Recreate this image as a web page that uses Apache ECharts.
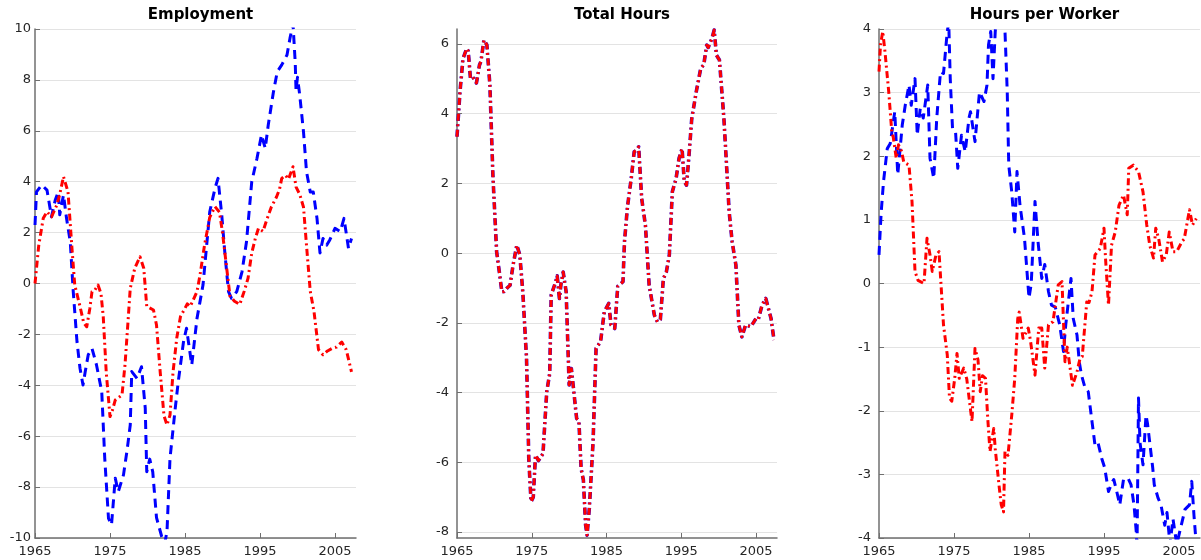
<!DOCTYPE html>
<html>
<head>
<meta charset="utf-8">
<script src="https://cdn.jsdelivr.net/npm/echarts@6/dist/echarts.min.js"></script>
<style>
  html, body { margin: 0; padding: 0; background: #fff; }
  #chart { width: 1201px; height: 560px; }
</style>
</head>
<body>
<div id="chart"></div>
<script>
// panel titles and axis ticks
const titles = ['Employment', 'Total Hours', 'Hours per Worker']
const yearTicks = [1965, 1975, 1985, 1995, 2005]
const totalHoursTicks = [-8, -6, -4, -2, 0, 2, 4, 6]

// [year, value]
const employmentBlue = [
  [1965.0, 2.3], [1965.2, 3.6], [1965.9, 3.87], [1966.6, 3.67], [1967.2, 2.62], [1967.7, 3.28],
  [1968.1, 3.6], [1968.3, 2.7], [1968.8, 3.48], [1969.2, 2.57], [1969.7, 1.64], [1970.1, -0.32],
  [1970.6, -2.29], [1971.0, -3.33], [1971.4, -3.99], [1971.7, -3.46], [1972.1, -2.8], [1972.6, -2.55],
  [1973.2, -3.2], [1973.9, -4.25], [1974.3, -6.87], [1974.8, -9.23], [1975.2, -9.49], [1975.7, -7.65],
  [1976.1, -8.18], [1976.8, -7.52], [1977.3, -6.5], [1977.7, -5.56], [1977.9, -3.46], [1978.6, -3.73],
  [1979.2, -3.27], [1979.7, -4.9], [1979.9, -7.4], [1980.3, -6.9], [1980.7, -7.4], [1981.2, -9.2],
  [1981.9, -9.95], [1982.3, -10.2], [1982.6, -9.75], [1983.0, -6.87], [1983.7, -4.9], [1984.1, -3.86],
  [1984.8, -2.29], [1985.2, -1.76], [1985.9, -3.2], [1986.6, -1.37], [1987.4, -0.06], [1988.3, 2.82],
  [1989.0, 3.74], [1989.4, 4.13], [1989.9, 2.69], [1990.3, 1.25], [1990.8, -0.32], [1991.2, -0.58],
  [1991.9, -0.32], [1992.6, 0.46], [1993.2, 1.64], [1993.9, 4.0], [1994.6, 4.92], [1995.2, 5.84],
  [1995.7, 5.31], [1996.1, 6.23], [1996.8, 7.54], [1997.3, 8.32], [1997.9, 8.59], [1998.6, 8.98],
  [1999.0, 9.64], [1999.4, 10.2], [1999.7, 8.66], [1999.8, 7.6], [2000.0, 8.1], [2000.3, 7.4],
  [2000.8, 5.96], [2001.2, 4.4], [2001.7, 3.6], [2002.1, 3.6], [2002.6, 2.56], [2003.0, 1.2],
  [2003.4, 1.77], [2003.9, 1.51], [2004.3, 1.71], [2005.0, 2.17], [2005.7, 2.04], [2006.2, 2.56],
  [2006.8, 1.38], [2007.2, 1.77]
]
const employmentRed = [
  [1965.0, 0.0], [1965.5, 1.5], [1966.1, 2.56], [1966.6, 2.82], [1967.2, 2.62], [1967.9, 3.08],
  [1968.3, 3.5], [1968.8, 4.2], [1969.4, 3.6], [1969.9, 1.5], [1970.3, -0.06], [1971.0, -0.9],
  [1971.5, -1.55], [1971.9, -1.7], [1972.3, -1.0], [1972.6, -0.32], [1973.0, -0.25], [1973.4, -0.06],
  [1973.8, -0.4], [1974.1, -1.3], [1974.5, -3.5], [1975.0, -5.23], [1975.3, -5.0], [1975.7, -4.58],
  [1976.6, -4.38], [1977.0, -3.2], [1977.4, -1.5], [1977.7, -0.19], [1978.3, 0.6], [1979.0, 1.05],
  [1979.5, 0.6], [1979.9, -0.9], [1980.1, -0.97], [1980.8, -1.04], [1981.2, -1.63], [1981.7, -3.5],
  [1982.2, -5.2], [1982.6, -5.56], [1983.0, -5.17], [1983.4, -3.5], [1983.9, -2.14], [1984.4, -1.3],
  [1985.0, -0.97], [1985.3, -0.8], [1985.7, -0.9], [1986.6, -0.32], [1987.0, 0.33], [1987.6, 1.5],
  [1988.3, 2.6], [1989.0, 3.02], [1989.6, 2.8], [1990.0, 2.0], [1990.6, 0.5], [1991.0, -0.5],
  [1991.6, -0.7], [1992.3, -0.82], [1992.9, -0.3], [1993.4, 0.2], [1993.9, 1.2], [1994.4, 1.8],
  [1994.8, 2.17], [1995.4, 2.05], [1995.9, 2.5], [1996.5, 3.0], [1997.2, 3.4], [1997.6, 3.7],
  [1997.9, 4.13], [1998.4, 4.25], [1998.8, 4.1], [1999.4, 4.59], [1999.8, 3.8], [2000.3, 3.5],
  [2000.8, 3.0], [2001.2, 1.5], [2001.7, -0.3], [2002.2, -1.1], [2002.8, -2.6], [2003.4, -2.8],
  [2004.0, -2.65], [2004.6, -2.55], [2005.2, -2.5], [2005.9, -2.3], [2006.5, -2.6], [2007.2, -3.47]
]
const totalHours = [
  [1965.0, 3.34], [1965.4, 4.63], [1965.8, 5.58], [1966.3, 5.87], [1966.5, 5.8], [1966.8, 5.01],
  [1967.1, 5.05], [1967.4, 4.96], [1967.6, 4.88], [1968.0, 5.39], [1968.2, 5.5], [1968.4, 5.55],
  [1968.6, 6.11], [1969.0, 5.97], [1969.4, 4.82], [1969.8, 2.24], [1970.3, 0.04], [1970.7, -0.6],
  [1971.0, -1.11], [1971.3, -1.1], [1971.7, -1.0], [1972.1, -0.92], [1972.5, -0.34], [1973.0, 0.23],
  [1973.4, -0.05], [1973.8, -1.11], [1974.3, -3.02], [1974.6, -5.89], [1974.9, -7.13], [1975.2, -7.0],
  [1975.5, -5.79], [1975.9, -5.95], [1976.5, -5.75], [1977.0, -3.98], [1977.4, -3.45], [1977.6, -1.2],
  [1978.2, -0.82], [1978.4, -0.65], [1978.7, -1.3], [1978.9, -0.9], [1979.2, -0.54], [1979.6, -1.11],
  [1980.0, -3.78], [1980.3, -3.31], [1980.5, -3.3], [1981.0, -4.74], [1981.3, -4.8], [1981.6, -6.18],
  [1981.9, -6.5], [1982.2, -7.8], [1982.4, -8.09], [1982.7, -7.32], [1983.2, -5.41], [1983.6, -2.73],
  [1984.2, -2.54], [1984.7, -1.68], [1985.3, -1.44], [1985.6, -2.06], [1986.1, -2.16], [1986.5, -0.95],
  [1987.2, -0.82], [1987.4, 0.33], [1987.8, 1.33], [1988.3, 2.14], [1988.7, 2.91], [1989.0, 2.95],
  [1989.3, 3.05], [1989.7, 1.57], [1990.2, 0.8], [1990.7, -0.92], [1991.4, -1.78], [1991.8, -1.97],
  [1992.2, -1.9], [1992.6, -0.73], [1993.0, -0.54], [1993.4, -0.05], [1993.8, 1.76], [1994.3, 2.14],
  [1994.7, 2.72], [1995.1, 3.0], [1995.4, 2.05], [1995.7, 1.95], [1996.0, 2.72], [1996.4, 3.86],
  [1997.0, 4.63], [1997.6, 5.3], [1998.0, 5.4], [1998.4, 5.97], [1998.6, 5.9], [1999.1, 6.16],
  [1999.4, 6.4], [1999.7, 5.68], [2000.1, 5.54], [2000.7, 3.86], [2001.4, 1.19], [2001.8, 0.33],
  [2002.3, -0.34], [2002.7, -2.06], [2003.1, -2.4], [2003.6, -2.06], [2004.3, -2.11], [2005.0, -1.87],
  [2005.3, -1.9], [2005.8, -1.49], [2006.3, -1.3], [2007.0, -1.87], [2007.4, -2.49]
]
const hoursPerWorkerBlue = [
  [1965.0, 0.45], [1965.2, 0.92], [1965.3, 1.13], [1965.6, 1.6], [1966.1, 2.12], [1966.5, 2.2],
  [1967.1, 2.7], [1967.5, 1.71], [1968.1, 2.49], [1968.5, 2.8], [1969.0, 3.12], [1969.3, 2.8],
  [1969.8, 3.22], [1970.1, 2.33], [1970.5, 2.75], [1970.9, 2.6], [1971.5, 3.12], [1971.8, 1.97],
  [1972.3, 1.65], [1972.7, 2.6], [1973.2, 3.33], [1973.6, 3.3], [1974.1, 3.96], [1974.3, 4.1],
  [1974.5, 3.22], [1974.8, 2.44], [1975.2, 2.4], [1975.5, 1.81], [1976.0, 2.33], [1976.5, 2.07],
  [1977.0, 2.6], [1977.2, 2.7], [1977.8, 2.23], [1978.4, 3.01], [1979.0, 2.86], [1979.4, 3.12],
  [1979.6, 3.75], [1979.9, 3.96], [1980.2, 3.22], [1980.5, 3.96], [1980.8, 4.4], [1981.3, 4.6],
  [1981.8, 3.96], [1982.1, 3.01], [1982.3, 1.86], [1982.7, 1.44], [1983.1, 0.81], [1983.4, 1.76],
  [1983.8, 1.23], [1984.4, 0.71], [1985.0, -0.23], [1985.3, 0.0], [1985.8, 1.29], [1986.2, 0.66],
  [1986.7, 0.08], [1987.1, 0.3], [1987.6, -0.13], [1988.0, -0.34], [1988.5, -0.37], [1989.1, -0.65],
  [1989.6, -1.07], [1989.9, -0.65], [1990.6, 0.08], [1990.9, -0.55], [1991.4, -0.81], [1991.7, -1.23],
  [1992.0, -1.44], [1992.5, -1.65], [1992.9, -1.7], [1993.4, -2.17], [1993.8, -2.54], [1994.2, -2.5],
  [1994.7, -2.75], [1995.1, -2.9], [1995.6, -3.27], [1996.1, -3.12], [1996.3, -3.08], [1996.7, -3.27],
  [1997.1, -3.48], [1997.6, -3.08], [1998.2, -3.06], [1998.6, -3.16], [1999.0, -3.48], [1999.3, -3.9],
  [1999.4, -4.2], [1999.6, -1.8], [1999.8, -2.5], [2000.2, -2.85], [2000.6, -2.07], [2000.8, -2.2],
  [2001.1, -2.5], [2001.5, -2.9], [2001.7, -3.16], [2002.2, -3.37], [2002.6, -3.48], [2003.1, -3.8],
  [2003.4, -3.6], [2003.8, -4.1], [2004.2, -3.7], [2004.7, -4.1], [2005.3, -3.8], [2005.8, -3.55],
  [2006.4, -3.48], [2006.7, -3.11], [2007.0, -3.65], [2007.3, -4.1]
]
const hoursPerWorkerRed = [
  [1965.0, 3.33], [1965.2, 3.75], [1965.5, 3.96], [1965.8, 3.64], [1966.3, 3.01], [1966.7, 2.39],
  [1966.9, 2.3], [1967.3, 1.97], [1967.6, 2.18], [1968.0, 2.08], [1968.3, 1.91], [1969.0, 1.86],
  [1969.4, 1.29], [1969.8, 0.19], [1970.2, 0.05], [1971.0, 0.0], [1971.4, 0.71], [1971.8, 0.45],
  [1972.1, 0.19], [1972.6, 0.45], [1973.0, 0.5], [1973.6, -0.65], [1974.1, -1.12], [1974.4, -1.8],
  [1974.7, -1.85], [1975.1, -1.49], [1975.4, -1.1], [1975.7, -1.49], [1976.3, -1.33], [1976.7, -1.5],
  [1977.4, -2.17], [1977.8, -1.02], [1978.2, -1.2], [1978.5, -1.7], [1978.8, -1.45], [1979.2, -1.49],
  [1979.5, -2.12], [1979.8, -2.64], [1980.3, -2.28], [1980.5, -2.6], [1981.0, -3.17], [1981.3, -3.48],
  [1981.6, -3.59], [1981.8, -2.64], [1982.2, -2.7], [1982.7, -2.07], [1983.1, -1.49], [1983.5, -0.55],
  [1983.7, -0.45], [1984.2, -0.86], [1984.9, -0.7], [1985.2, -0.9], [1985.8, -1.44], [1986.3, -0.7],
  [1986.7, -0.7], [1987.1, -1.33], [1987.6, -0.65], [1988.2, -0.6], [1988.9, -0.02], [1989.4, 0.03],
  [1989.8, -1.23], [1990.1, -1.0], [1990.8, -1.6], [1991.4, -1.39], [1991.8, -1.18], [1992.1, -1.15],
  [1992.7, -0.29], [1993.0, -0.3], [1993.4, -0.13], [1993.8, 0.45], [1994.5, 0.55], [1995.0, 0.87],
  [1995.2, 0.4], [1995.6, -0.34], [1996.0, 0.6], [1996.5, 0.81], [1997.0, 1.23], [1997.6, 1.39],
  [1998.1, 1.08], [1998.3, 1.81], [1998.9, 1.86], [1999.6, 1.76], [2000.2, 1.44], [2000.7, 0.92],
  [2001.1, 0.6], [2001.6, 0.4], [2001.9, 0.87], [2002.3, 0.7], [2002.8, 0.34], [2003.3, 0.45],
  [2003.7, 0.81], [2004.2, 0.5], [2004.7, 0.5], [2005.4, 0.66], [2005.7, 0.7], [2006.4, 1.16],
  [2006.8, 0.92], [2007.3, 1.02]
]

const fontFamily = 'DejaVu Sans'
const axisColor = '#6f6f6f'
const textColor = '#262626'
const blueDash = [9, 6]
const redDashDot = [7, 3.5, 2, 3.5]

const panels = [
  { left: 35, width: 321, titleX: 195.5 },
  { left: 457, width: 320, titleX: 617 },
  { left: 879, width: 321, titleX: 1039.5 },
]

const yRanges = [
  { min: -10, max: 10, interval: 2, margin: 4 },
  { min: -8.17, max: 6.43, customValues: totalHoursTicks, margin: 8 },
  { min: -4, max: 4, interval: 1, margin: 8 },
]

const makeLine = (idx, data, color, dash, width, z) => ({
  type: 'line',
  xAxisIndex: idx,
  yAxisIndex: idx,
  data,
  symbol: 'none',
  silent: true,
  z,
  lineStyle: { color, width, type: dash, cap: 'butt', join: 'round' },
})

const myChart = echarts.init(document.getElementById('chart'), null, { renderer: 'canvas' })

myChart.setOption({
  animation: false,
  backgroundColor: '#fff',
  title: panels.map((p, i) => ({
    text: titles[i],
    left: p.titleX,
    top: 3,
    textAlign: 'center',
    textStyle: { fontFamily, fontSize: 15, fontWeight: 'bold', color: '#000' },
  })),
  grid: panels.map((p) => ({ left: p.left, width: p.width, top: 29, height: 509 })),
  xAxis: panels.map((p, i) => ({
    type: 'value',
    gridIndex: i,
    min: 1965,
    max: 2007.8,
    axisLine: { show: true, onZero: false, lineStyle: { color: axisColor, width: 1.5 } },
    axisTick: { show: true, inside: true, length: 5, customValues: yearTicks, lineStyle: { color: axisColor } },
    axisLabel: {
      customValues: yearTicks,
      formatter: (v) => String(v),
      color: textColor,
      fontFamily,
      fontSize: 13,
      margin: 7,
    },
    splitLine: { show: false },
  })),
  yAxis: yRanges.map((r, i) => ({
    type: 'value',
    gridIndex: i,
    min: r.min,
    max: r.max,
    interval: r.interval,
    axisLine: { show: true, lineStyle: { color: axisColor, width: 1.5 } },
    axisTick: { show: true, inside: true, length: 5, customValues: r.customValues, lineStyle: { color: axisColor } },
    axisLabel: { customValues: r.customValues, color: textColor, fontFamily, fontSize: 13, margin: r.margin },
    splitLine: { show: true, lineStyle: { color: '#e3e3e3', width: 1 } },
  })),
  series: [
    makeLine(0, employmentBlue, '#0000ff', blueDash, 3, 2),
    makeLine(0, employmentRed, '#ff0000', redDashDot, 3, 3),
    makeLine(1, totalHours, '#3a00c0', redDashDot, 3.6, 2),
    makeLine(1, totalHours, '#ff0000', redDashDot, 2.8, 3),
    makeLine(2, hoursPerWorkerBlue, '#0000ff', blueDash, 3, 2),
    makeLine(2, hoursPerWorkerRed, '#ff0000', redDashDot, 3, 3),
  ],
})
</script>
</body>
</html>
